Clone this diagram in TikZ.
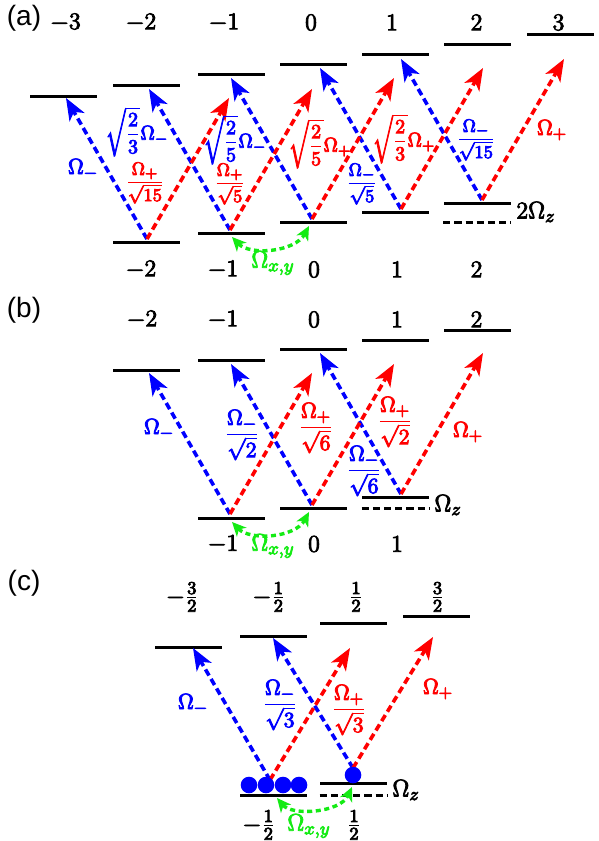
\documentclass[tikz,border=0pt]{standalone}
\usepackage{amsmath}
\usepackage{fontspec}
\newfontfamily\panelfont{Liberation Sans}
\usetikzlibrary{arrows.meta,calc}
\definecolor{myblue}{RGB}{0,0,255}
\definecolor{myred}{RGB}{255,0,0}
\definecolor{mygreen}{RGB}{20,235,20}
\newcommand\hv[1]{\special{pdf:literal direct 2 Tr 0.4 w}#1\special{pdf:literal direct 0 Tr}}
\tikzset{
  lvl/.style={rectangle,fill=black,inner sep=0pt,minimum width=33.5pt,minimum height=1.5pt},
  dlvl/.style={rectangle,inner sep=0pt,minimum width=33.5pt,minimum height=0pt},
  dashlvl/.style={line width=1.5pt,dash pattern=on 3.6pt off 2pt},
  tr/.style={line width=1.8pt,dash pattern=on 3.5pt off 2pt,-{Stealth[length=11pt,width=8.5pt,inset=3pt]}},
  bl/.style={tr,draw=myblue},
  rd/.style={tr,draw=myred},
  gr/.style={draw=mygreen,line width=1.7pt,dash pattern=on 2.5pt off 1.8pt,{Stealth[length=7pt,width=6.5pt,inset=2pt]}-{Stealth[length=7pt,width=6.5pt,inset=2pt]}},
  lab/.style={font=\fontsize{13}{15}\selectfont,inner sep=0pt},
  om/.style={font=\fontsize{11}{13}\selectfont,inner sep=0pt},
  fr/.style={font=\fontsize{9.5}{11}\selectfont,inner sep=0pt},
  frb/.style={font=\fontsize{11}{13}\selectfont,inner sep=0pt},
  sq/.style={font=\fontsize{10}{12}\selectfont,inner sep=0pt},
  pan/.style={font=\panelfont\fontsize{14}{16}\selectfont,inner sep=0pt},
  dot/.style={circle,fill=myblue,inner sep=0pt,minimum size=8.3pt}
}
\begin{document}
\begin{tikzpicture}[x=0.5pt,y=-0.5pt]
\useasboundingbox[fill=white] (0,0) rectangle (599,841);
% ================= panel (a) =================
\node[pan] (pa) at (24,18.5) {(a)};
\node[lvl] (ae1) at (63,96) {};
\node[lvl] (ae2) at (146.5,85) {};
\node[lvl] (ae3) at (231.5,74) {};
\node[lvl] (ae4) at (313,64) {};
\node[lvl] (ae5) at (395.5,54) {};
\node[lvl] (ae6) at (477,44) {};
\node[lvl] (ae7) at (560.5,34) {};
\node[lvl] (ag1) at (146.5,242) {};
\node[lvl] (ag2) at (231.5,233) {};
\node[lvl] (ag3) at (313,222) {};
\node[lvl] (ag4) at (395.5,212) {};
\node[lvl] (ag5) at (477,203) {};
\node[dlvl] (ad5) at (477,222) {};
\draw[dashlvl] (ad5.west) -- (ad5.east);
\node[lab] (at1) at (65.5,22.5) {\hv{$-3$}};
\node[lab] (at2) at (141,22.5) {\hv{$-2$}};
\node[lab] (at3) at (224,22.5) {\hv{$-1$}};
\node[lab] (at4) at (311,22.5) {\hv{$0$}};
\node[lab] (at5) at (392,22.5) {\hv{$1$}};
\node[lab] (at6) at (476.5,22.5) {\hv{$2$}};
\node[lab] (at7) at (558.5,22.5) {\hv{$3$}};
\node[lab] (ab1) at (141,269.5) {\hv{$-2$}};
\node[lab] (ab2) at (223,269.5) {\hv{$-1$}};
\node[lab] (ab3) at (314,269.5) {\hv{$0$}};
\node[lab] (ab4) at (397,269.5) {\hv{$1$}};
\node[lab] (ab5) at (476.5,269.5) {\hv{$2$}};
\coordinate (av1) at (147,239);
\coordinate (av2) at (230,230);
\coordinate (av3) at (312,219);
\coordinate (av4) at (401,209);
\coordinate (av5) at (482,200);
\foreach \i in {1,...,5}{
  \coordinate (abt\i) at ($(av\i)+(-81,-141)$);
  \coordinate (art\i) at ($(av\i)+(82,-141)$);
}
\draw[bl] (av1) -- (abt1);
\draw[bl] (av2) -- (abt2);
\draw[bl] (av3) -- (abt3);
\draw[bl] (av4) -- (abt4);
\draw[bl] (av5) -- (abt5);
\draw[rd] (av1) -- (art1);
\draw[rd] (av2) -- (art2);
\draw[rd] (av3) -- (art3);
\draw[rd] (av4) -- (art4);
\draw[rd] (av5) -- (art5);
\node[om,text=myblue] (al1) at (83,169) {\hv{$\Omega_-$}};
\node[sq,text=myblue] (al2) at (137,132) {\hv{$\sqrt{\dfrac{2}{3}}\Omega_-$}};
\node[fr,text=myred] (al3) at (145,183) {\hv{$\dfrac{\Omega_+}{\sqrt{15}}$}};
\node[sq,text=myblue] (al4) at (235,140) {\hv{$\sqrt{\dfrac{2}{5}}\Omega_-$}};
\node[fr,text=myred] (al5) at (230,184) {\hv{$\dfrac{\Omega_+}{\sqrt{5}}$}};
\node[sq,text=myred] (al6) at (320,144) {\hv{$\sqrt{\dfrac{2}{5}}\Omega_+$}};
\node[fr,text=myblue] (al7) at (362,184) {\hv{$\dfrac{\Omega_-}{\sqrt{5}}$}};
\node[sq,text=myred] (al8) at (404,139) {\hv{$\sqrt{\dfrac{2}{3}}\Omega_+$}};
\node[fr,text=myblue] (al9) at (476,140) {\hv{$\dfrac{\Omega_-}{\sqrt{15}}$}};
\node[om,text=myred] (al10) at (552,130) {\hv{$\Omega_+$}};
\node[lab,anchor=west] (az) at (516,212) {\hv{$2\Omega_z$}};
\coordinate (ax1) at (232,237);
\coordinate (ax2) at (309,226);
\draw[gr] (ax1) .. controls (250,256) and (295,252) .. (ax2);
\node[lab,text=mygreen] (axl) at (273,263) {\hv{$\Omega_{x,y}$}};
% ================= panel (b) =================
\node[pan] (pb) at (24,310) {(b)};
\node[lvl] (be1) at (146.5,370) {};
\node[lvl] (be2) at (231.5,360) {};
\node[lvl] (be3) at (313,349) {};
\node[lvl] (be4) at (395.5,340) {};
\node[lvl] (be5) at (477,330) {};
\node[lvl] (bg1) at (231.5,518) {};
\node[lvl] (bg2) at (313,508) {};
\node[lvl] (bg3) at (395.5,497) {};
\node[dlvl] (bd3) at (395.5,508) {};
\draw[dashlvl] (bd3.west) -- (bd3.east);
\node[lab] (bt1) at (142,319.5) {\hv{$-2$}};
\node[lab] (bt2) at (223,319.5) {\hv{$-1$}};
\node[lab] (bt3) at (314,319.5) {\hv{$0$}};
\node[lab] (bt4) at (397,319.5) {\hv{$1$}};
\node[lab] (bt5) at (476.5,319.5) {\hv{$2$}};
\node[lab] (bb1) at (223,544) {\hv{$-1$}};
\node[lab] (bb2) at (314,544) {\hv{$0$}};
\node[lab] (bb3) at (397,544) {\hv{$1$}};
\coordinate (bv1) at (230,514);
\coordinate (bv2) at (312,505);
\coordinate (bv3) at (401,494);
\foreach \i in {1,2,3}{
  \coordinate (bbt\i) at ($(bv\i)+(-81,-141)$);
  \coordinate (brt\i) at ($(bv\i)+(82,-141)$);
}
\draw[bl] (bv1) -- (bbt1);
\draw[bl] (bv2) -- (bbt2);
\draw[bl] (bv3) -- (bbt3);
\draw[rd] (bv1) -- (brt1);
\draw[rd] (bv2) -- (brt2);
\draw[rd] (bv3) -- (brt3);
\node[om,text=myblue] (bl1) at (159,429) {\hv{$\Omega_-$}};
\node[frb,text=myblue] (bl2) at (242,435) {\hv{$\dfrac{\Omega_-}{\sqrt{2}}$}};
\node[frb,text=myred] (bl3) at (316,428) {\hv{$\dfrac{\Omega_+}{\sqrt{6}}$}};
\node[frb,text=myred] (bl4) at (395,422) {\hv{$\dfrac{\Omega_+}{\sqrt{2}}$}};
\node[frb,text=myblue] (bl5) at (364,471) {\hv{$\dfrac{\Omega_-}{\sqrt{6}}$}};
\node[om,text=myred] (bl6) at (468,432) {\hv{$\Omega_+$}};
\node[lab,anchor=west] (bz) at (434,505) {\hv{$\Omega_z$}};
\coordinate (bx1) at (232,522);
\coordinate (bx2) at (309,512);
\draw[gr] (bx1) .. controls (250,541) and (295,538) .. (bx2);
\node[lab,text=mygreen] (bxl) at (273,546) {\hv{$\Omega_{x,y}$}};
% ================= panel (c) =================
\node[pan] (pc) at (24,583) {(c)};
\node[lvl] (ce1) at (188.5,647) {};
\node[lvl] (ce2) at (273.5,636) {};
\node[lvl] (ce3) at (353.5,623) {};
\node[lvl] (ce4) at (436.5,616) {};
\node[lvl] (cg1) at (273.5,795) {};
\node[lvl] (cg2) at (353.5,783) {};
\node[dlvl] (cd2) at (353.5,795) {};
\draw[dashlvl] (cd2.west) -- (cd2.east);
\node[lab] (ct1) at (182.5,597) {\hv{$-\frac{3}{2}$}};
\node[lab] (ct2) at (269,597) {\hv{$-\frac{1}{2}$}};
\node[lab] (ct3) at (356,597) {\hv{$\frac{1}{2}$}};
\node[lab] (ct4) at (437.5,597) {\hv{$\frac{3}{2}$}};
\node[lab] (cb1) at (259,825) {\hv{$-\frac{1}{2}$}};
\node[lab] (cb2) at (354,825) {\hv{$\frac{1}{2}$}};
\coordinate (cv1) at (270,780);
\coordinate (cv2) at (353,768);
\coordinate (cbt1) at (193,648);
\coordinate (crt1) at (350,648);
\coordinate (cbt2) at (273,638);
\coordinate (crt2) at (433,637);
\draw[bl] (cv1) -- (cbt1);
\draw[bl] (cv2) -- (cbt2);
\draw[rd] (cv1) -- (crt1);
\draw[rd] (cv2) -- (crt2);
\node[dot] (d1) at (249,785) {};
\node[dot] (d2) at (266,785) {};
\node[dot] (d3) at (283,785) {};
\node[dot] (d4) at (299,785) {};
\node[dot] (d5) at (353,775) {};
\node[om,text=myblue] (cl1) at (193,704) {\hv{$\Omega_-$}};
\node[frb,text=myblue] (cl2) at (280,705) {\hv{$\dfrac{\Omega_-}{\sqrt{3}}$}};
\node[frb,text=myred] (cl3) at (349,710) {\hv{$\dfrac{\Omega_+}{\sqrt{3}}$}};
\node[om,text=myred] (cl4) at (438,689) {\hv{$\Omega_+$}};
\node[lab,anchor=west] (cz) at (392,790) {\hv{$\Omega_z$}};
\coordinate (cx1) at (277,798);
\coordinate (cx2) at (352,787);
\draw[gr] (cx1) .. controls (292,816) and (340,813) .. (cx2);
\node[lab,text=mygreen] (cxl) at (309,826) {\hv{$\Omega_{x,y}$}};
\end{tikzpicture}
\end{document}
